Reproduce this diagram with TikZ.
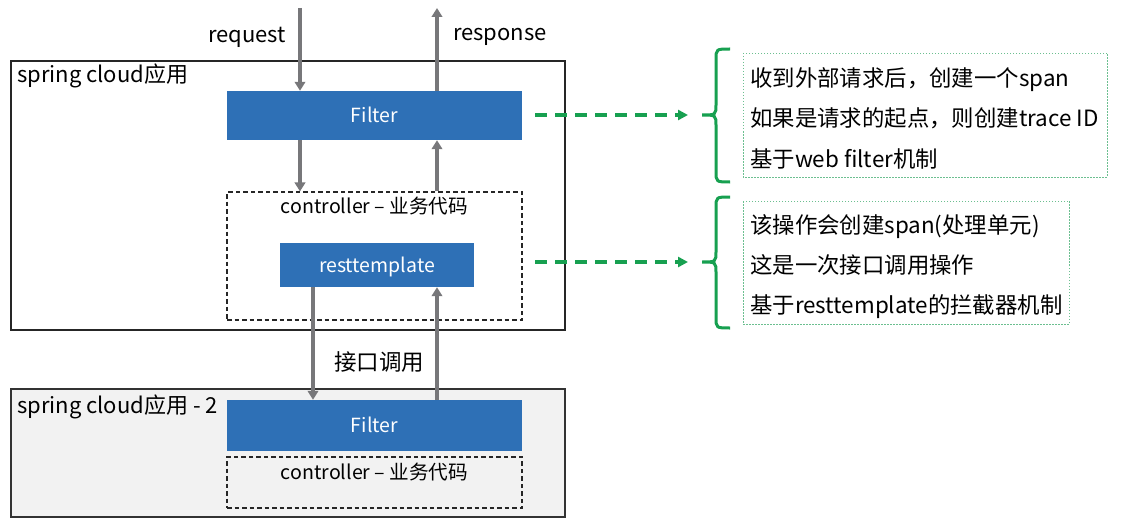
\documentclass[tikz,border=0pt]{standalone}
\usepackage{fontspec}
\setmainfont{Noto Sans CJK SC}
\usetikzlibrary{arrows.meta}
\definecolor{bluebox}{HTML}{2E70B6}
\definecolor{arrgray}{HTML}{77777A}
\definecolor{grn}{HTML}{17A050}
\definecolor{lgrn}{HTML}{6CBF90}
\definecolor{bggray}{HTML}{F2F2F2}
\begin{document}
\begin{tikzpicture}[x=1pt,y=-1pt,
  appbox/.style={draw=black!85,line width=1.2pt},
  bluerect/.style={fill=bluebox,draw=none},
  ctrlbox/.style={draw=black!85,line width=1.1pt,dash pattern=on 4.5pt off 3pt},
  garrow/.style={draw=arrgray,line width=3.3pt,-{Triangle[length=9pt,width=10.5pt]}},
  darrow/.style={draw=grn,line width=3.5pt,dash pattern=on 12pt off 8pt,-{Triangle[length=10pt,width=10pt]}},
  brace/.style={draw=grn,line width=3pt},
  notebox/.style={draw=lgrn,line width=0.8pt,dash pattern=on 1.5pt off 1.5pt},
  lbl/.style={font=\fontsize{22}{24}\selectfont,inner sep=0pt},
  wlbl/.style={font=\fontsize{19.5}{22}\selectfont,text=white,inner sep=0pt},
  clbl/.style={font=\fontsize{19.6}{22}\selectfont,inner sep=0pt},
  note/.style={font=\fontsize{22.4}{24}\selectfont,inner sep=0pt,anchor=base west},
]
\useasboundingbox (0,0) rectangle (1124,532);
% app boxes
\path[appbox] (11,61) rectangle (565,330);
\path[appbox,fill=bggray,draw=black!80] (11,389) rectangle (565,517);
\node[lbl,anchor=base west] (app1) at (17,83) {spring cloud应用};
\node[lbl,anchor=base west] (app2) at (17,413) {spring cloud应用 - 2};
% blue rects and dashed boxes
\node[bluerect,minimum width=295pt,minimum height=49pt,inner sep=0pt] (f1) at (374.5,115.5) {};
\node[wlbl,anchor=base] at (374.5,123) {Filter};
\node[ctrlbox,minimum width=295pt,minimum height=128pt,inner sep=0pt] (c1) at (374.5,256) {};
\node[clbl,anchor=base] at (374.5,213) {controller – 业务代码};
\node[bluerect,minimum width=194pt,minimum height=44pt,inner sep=0pt] (rt) at (377,265) {};
\node[wlbl,anchor=base] at (377,272) {resttemplate};
\node[bluerect,minimum width=295pt,minimum height=51pt,inner sep=0pt] (f2) at (374.5,425.5) {};
\node[wlbl,anchor=base] at (374.5,432) {Filter};
\node[ctrlbox,minimum width=295pt,minimum height=51pt,inner sep=0pt] (c2) at (374.5,482.5) {};
\node[clbl,anchor=base] at (374.5,479) {controller – 业务代码};
% top arrows
\coordinate (reqtop) at (300,8);
\coordinate (restop) at (437,8);
\node[lbl,anchor=base] (req) at (247,43) {request};
\node[lbl,anchor=base] (res) at (500,41) {response};
\draw[garrow] (reqtop) -- (reqtop |- f1.north);
\draw[garrow] (restop |- f1.north) -- (restop);
\draw[garrow] (reqtop |- f1.south) -- (reqtop |- c1.north);
\draw[garrow] (restop |- c1.north) -- (restop |- f1.south);
\coordinate (callx) at (313,0);
\draw[garrow] (callx |- rt.south) -- (callx |- f2.north);
\draw[garrow] (restop |- f2.north) -- (restop |- rt.south);
\node[lbl,anchor=base,font=\fontsize{22.5}{24}\selectfont] (call) at (379,370) {接口调用};
% green dashed arrows
\coordinate (b1) at (702,115);
\coordinate (b2) at (702,262);
\draw[darrow] (535,115) -- (688,115);
\draw[darrow] (535,262) -- (688,262);
% braces
\draw[brace] (730,49) .. controls (716,49) .. (716,60) -- (716,104) .. controls (716,115) .. (b1) .. controls (716,115) .. (716,126) -- (716,171) .. controls (716,182) .. (730,182);
\draw[brace] (730,197) .. controls (716,197) .. (716,208) -- (716,251) .. controls (716,262) .. (b2) .. controls (716,262) .. (716,273) -- (716,317) .. controls (716,328) .. (730,328);
% note boxes
\path[notebox] (743,53) rectangle (1107,177);
\path[notebox] (743,201) rectangle (1069,324);
\node[note] (n11) at (750,87) {收到外部请求后，创建一个span};
\node[note] (n12) at (750,127) {如果是请求的起点，则创建trace ID};
\node[note] (n13) at (750,167) {基于web filter机制};
\node[note] (n21) at (750,233) {该操作会创建span(处理单元)};
\node[note] (n22) at (750,273) {这是一次接口调用操作};
\node[note] (n23) at (750,313) {基于resttemplate的拦截器机制};
\end{tikzpicture}
\end{document}
